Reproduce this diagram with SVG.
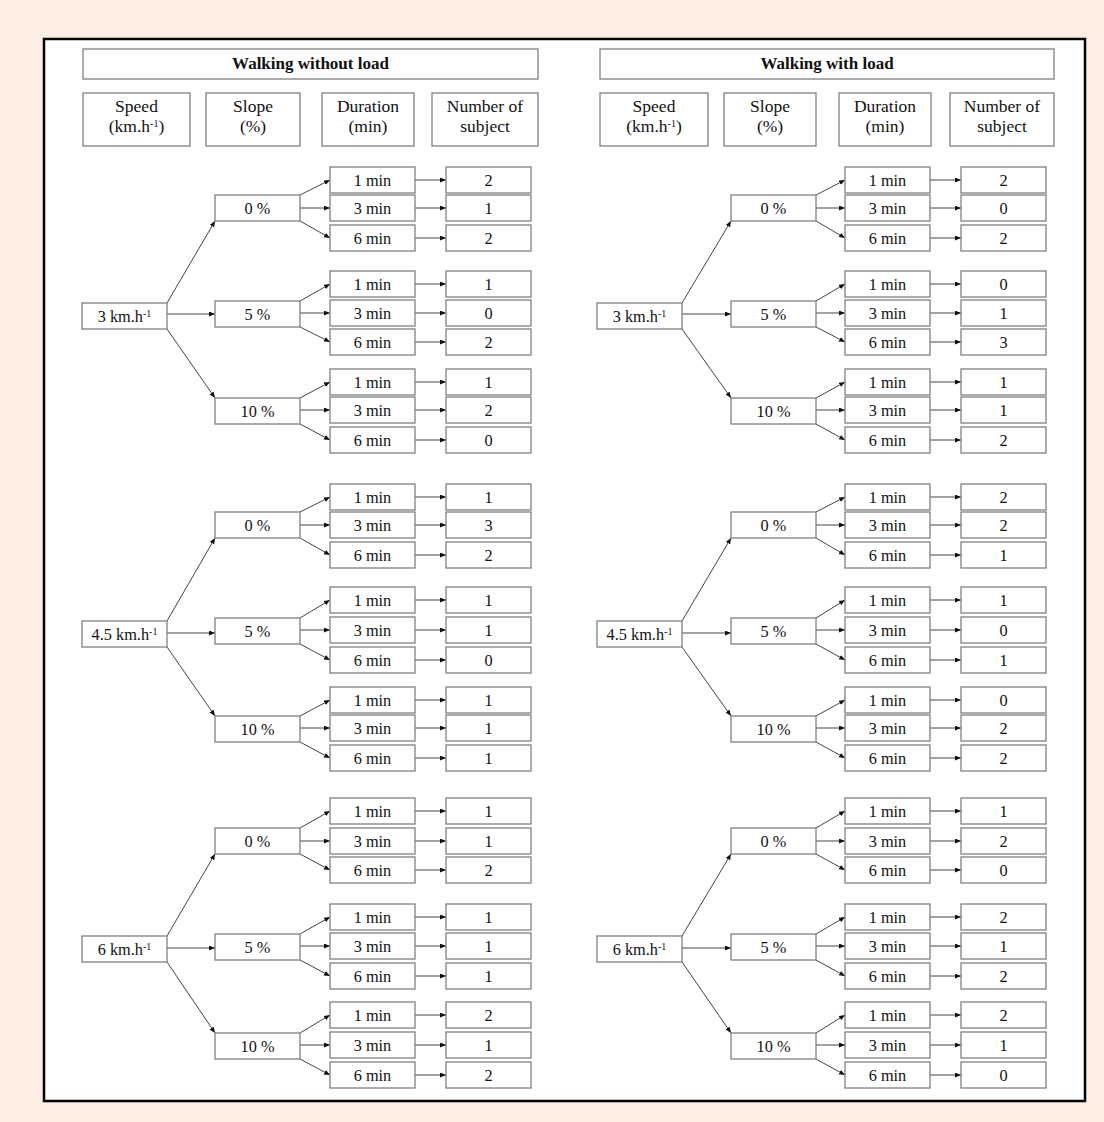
<svg xmlns="http://www.w3.org/2000/svg" width="1104" height="1122" viewBox="0 0 1104 1122">
<style>
.b{fill:#fff;stroke:#808080;stroke-width:1.3}
.t{font-family:"Liberation Serif","Times New Roman",serif;font-size:16.3px;fill:#111;text-anchor:middle}
.h{font-size:17.5px}
.ttl{font-weight:bold;font-size:17px}
.sup{font-size:10px}
.e{stroke:#444;stroke-width:1;fill:none;marker-end:url(#ah)}
</style>
<defs>
<marker id="ah" markerUnits="userSpaceOnUse" markerWidth="7" markerHeight="6" refX="6" refY="2.5" orient="auto"><path d="M0,0 L6,2.5 L0,5 z" fill="#111"/></marker>
</defs>
<rect x="0" y="0" width="1104" height="1122" fill="#fdeee4"/>
<rect x="44" y="39" width="1041" height="1062" fill="#fff" stroke="#000" stroke-width="2.5"/>

<!-- Headers -->
<g id="L-title"><rect class="b" x="83" y="49" width="455" height="30"/><text class="t ttl" x="310.5" y="69">Walking without load</text></g>
<g id="L-h-speed"><rect class="b" x="83" y="93" width="107" height="53"/><text class="t h" x="136.5" y="112">Speed</text><text class="t h" x="136.5" y="132">(km.h<tspan class="sup" baseline-shift="super">-1</tspan>)</text></g>
<g id="L-h-slope"><rect class="b" x="206" y="93" width="94" height="53"/><text class="t h" x="253" y="112">Slope</text><text class="t h" x="253" y="132">(%)</text></g>
<g id="L-h-dur"><rect class="b" x="322" y="93" width="92" height="53"/><text class="t h" x="368" y="112">Duration</text><text class="t h" x="368" y="132">(min)</text></g>
<g id="L-h-num"><rect class="b" x="432" y="93" width="106" height="53"/><text class="t h" x="485" y="112">Number of</text><text class="t h" x="485" y="132">subject</text></g>

<g id="R-title"><rect class="b" x="600" y="49" width="454" height="30"/><text class="t ttl" x="827" y="69">Walking with load</text></g>
<g id="R-h-speed"><rect class="b" x="600" y="93" width="108" height="53"/><text class="t h" x="654" y="112">Speed</text><text class="t h" x="654" y="132">(km.h<tspan class="sup" baseline-shift="super">-1</tspan>)</text></g>
<g id="R-h-slope"><rect class="b" x="724" y="93" width="92" height="53"/><text class="t h" x="770" y="112">Slope</text><text class="t h" x="770" y="132">(%)</text></g>
<g id="R-h-dur"><rect class="b" x="839" y="93" width="92" height="53"/><text class="t h" x="885" y="112">Duration</text><text class="t h" x="885" y="132">(min)</text></g>
<g id="R-h-num"><rect class="b" x="950" y="93" width="104" height="53"/><text class="t h" x="1002" y="112">Number of</text><text class="t h" x="1002" y="132">subject</text></g>

<!-- Connectors -->
<g id="connectors">
<!-- Left G1 -->
<path class="e" d="M167,303 L215,221"/><path class="e" d="M167,314 L215,314"/><path class="e" d="M167,329 L215,398"/>
<path class="e" d="M300,195 L330,180"/><path class="e" d="M300,208 L330,208"/><path class="e" d="M300,221 L330,238"/>
<path class="e" d="M415,180 L446,180"/><path class="e" d="M415,208 L446,208"/><path class="e" d="M415,238 L446,238"/>
<path class="e" d="M300,301 L330,284"/><path class="e" d="M300,313 L330,313"/><path class="e" d="M300,327 L330,342"/>
<path class="e" d="M415,284 L446,284"/><path class="e" d="M415,313 L446,313"/><path class="e" d="M415,342 L446,342"/>
<path class="e" d="M300,398 L330,382"/><path class="e" d="M300,410 L330,410"/><path class="e" d="M300,424 L330,440"/>
<path class="e" d="M415,382 L446,382"/><path class="e" d="M415,410 L446,410"/><path class="e" d="M415,440 L446,440"/>
<!-- Left G2 -->
<path class="e" d="M167,621 L215,538"/><path class="e" d="M167,633 L215,633"/><path class="e" d="M167,647 L215,716"/>
<path class="e" d="M300,512 L330,497"/><path class="e" d="M300,525 L330,525"/><path class="e" d="M300,538 L330,555"/>
<path class="e" d="M415,497 L446,497"/><path class="e" d="M415,525 L446,525"/><path class="e" d="M415,555 L446,555"/>
<path class="e" d="M300,618 L330,600"/><path class="e" d="M300,630 L330,630"/><path class="e" d="M300,644 L330,660"/>
<path class="e" d="M415,600 L446,600"/><path class="e" d="M415,630 L446,630"/><path class="e" d="M415,660 L446,660"/>
<path class="e" d="M300,716 L330,700"/><path class="e" d="M300,728 L330,728"/><path class="e" d="M300,742 L330,758"/>
<path class="e" d="M415,700 L446,700"/><path class="e" d="M415,728 L446,728"/><path class="e" d="M415,758 L446,758"/>
<!-- Left G3 -->
<path class="e" d="M167,936 L215,854"/><path class="e" d="M167,948 L215,948"/><path class="e" d="M167,962 L215,1033"/>
<path class="e" d="M300,828 L330,811"/><path class="e" d="M300,841 L330,841"/><path class="e" d="M300,854 L330,870"/>
<path class="e" d="M415,811 L446,811"/><path class="e" d="M415,841 L446,841"/><path class="e" d="M415,870 L446,870"/>
<path class="e" d="M300,934 L330,917"/><path class="e" d="M300,946 L330,946"/><path class="e" d="M300,960 L330,976"/>
<path class="e" d="M415,917 L446,917"/><path class="e" d="M415,946 L446,946"/><path class="e" d="M415,976 L446,976"/>
<path class="e" d="M300,1033 L330,1015"/><path class="e" d="M300,1045 L330,1045"/><path class="e" d="M300,1059 L330,1075"/>
<path class="e" d="M415,1015 L446,1015"/><path class="e" d="M415,1045 L446,1045"/><path class="e" d="M415,1075 L446,1075"/>
<!-- Right G1 -->
<path class="e" d="M682,303 L731,221"/><path class="e" d="M682,314 L731,314"/><path class="e" d="M682,329 L731,398"/>
<path class="e" d="M816,195 L845,180"/><path class="e" d="M816,208 L845,208"/><path class="e" d="M816,221 L845,238"/>
<path class="e" d="M930,180 L961,180"/><path class="e" d="M930,208 L961,208"/><path class="e" d="M930,238 L961,238"/>
<path class="e" d="M816,301 L845,284"/><path class="e" d="M816,313 L845,313"/><path class="e" d="M816,327 L845,342"/>
<path class="e" d="M930,284 L961,284"/><path class="e" d="M930,313 L961,313"/><path class="e" d="M930,342 L961,342"/>
<path class="e" d="M816,398 L845,382"/><path class="e" d="M816,410 L845,410"/><path class="e" d="M816,424 L845,440"/>
<path class="e" d="M930,382 L961,382"/><path class="e" d="M930,410 L961,410"/><path class="e" d="M930,440 L961,440"/>
<!-- Right G2 -->
<path class="e" d="M682,621 L731,538"/><path class="e" d="M682,633 L731,633"/><path class="e" d="M682,647 L731,716"/>
<path class="e" d="M816,512 L845,497"/><path class="e" d="M816,525 L845,525"/><path class="e" d="M816,538 L845,555"/>
<path class="e" d="M930,497 L961,497"/><path class="e" d="M930,525 L961,525"/><path class="e" d="M930,555 L961,555"/>
<path class="e" d="M816,618 L845,600"/><path class="e" d="M816,630 L845,630"/><path class="e" d="M816,644 L845,660"/>
<path class="e" d="M930,600 L961,600"/><path class="e" d="M930,630 L961,630"/><path class="e" d="M930,660 L961,660"/>
<path class="e" d="M816,716 L845,700"/><path class="e" d="M816,728 L845,728"/><path class="e" d="M816,742 L845,758"/>
<path class="e" d="M930,700 L961,700"/><path class="e" d="M930,728 L961,728"/><path class="e" d="M930,758 L961,758"/>
<!-- Right G3 -->
<path class="e" d="M682,936 L731,854"/><path class="e" d="M682,948 L731,948"/><path class="e" d="M682,962 L731,1033"/>
<path class="e" d="M816,828 L845,811"/><path class="e" d="M816,841 L845,841"/><path class="e" d="M816,854 L845,870"/>
<path class="e" d="M930,811 L961,811"/><path class="e" d="M930,841 L961,841"/><path class="e" d="M930,870 L961,870"/>
<path class="e" d="M816,934 L845,917"/><path class="e" d="M816,946 L845,946"/><path class="e" d="M816,960 L845,976"/>
<path class="e" d="M930,917 L961,917"/><path class="e" d="M930,946 L961,946"/><path class="e" d="M930,976 L961,976"/>
<path class="e" d="M816,1033 L845,1015"/><path class="e" d="M816,1045 L845,1045"/><path class="e" d="M816,1059 L845,1075"/>
<path class="e" d="M930,1015 L961,1015"/><path class="e" d="M930,1045 L961,1045"/><path class="e" d="M930,1075 L961,1075"/>
</g>

<!-- Left nodes G1 -->
<g id="L-g1" transform="translate(82,303)"><rect class="b" width="85" height="26"/><text class="t" x="42.5" y="18.5">3 km.h<tspan class="sup" baseline-shift="super">-1</tspan></text></g>
<g id="L-g1-p0" transform="translate(215,195)"><rect class="b" width="85" height="26"/><text class="t" x="42.5" y="18.5">0 %</text></g>
<g id="L-g1-p0-d1" transform="translate(330,167)"><rect class="b" width="85" height="26"/><text class="t" x="42.5" y="18.5">1 min</text></g>
<g id="L-g1-p0-d3" transform="translate(330,195)"><rect class="b" width="85" height="26"/><text class="t" x="42.5" y="18.5">3 min</text></g>
<g id="L-g1-p0-d6" transform="translate(330,225)"><rect class="b" width="85" height="26"/><text class="t" x="42.5" y="18.5">6 min</text></g>
<g id="L-g1-p0-n1" transform="translate(446,167)"><rect class="b" width="85" height="26"/><text class="t" x="42.5" y="18.5">2</text></g>
<g id="L-g1-p0-n3" transform="translate(446,195)"><rect class="b" width="85" height="26"/><text class="t" x="42.5" y="18.5">1</text></g>
<g id="L-g1-p0-n6" transform="translate(446,225)"><rect class="b" width="85" height="26"/><text class="t" x="42.5" y="18.5">2</text></g>
<g id="L-g1-p5" transform="translate(215,301)"><rect class="b" width="85" height="26"/><text class="t" x="42.5" y="18.5">5 %</text></g>
<g id="L-g1-p5-d1" transform="translate(330,271)"><rect class="b" width="85" height="26"/><text class="t" x="42.5" y="18.5">1 min</text></g>
<g id="L-g1-p5-d3" transform="translate(330,300)"><rect class="b" width="85" height="26"/><text class="t" x="42.5" y="18.5">3 min</text></g>
<g id="L-g1-p5-d6" transform="translate(330,329)"><rect class="b" width="85" height="26"/><text class="t" x="42.5" y="18.5">6 min</text></g>
<g id="L-g1-p5-n1" transform="translate(446,271)"><rect class="b" width="85" height="26"/><text class="t" x="42.5" y="18.5">1</text></g>
<g id="L-g1-p5-n3" transform="translate(446,300)"><rect class="b" width="85" height="26"/><text class="t" x="42.5" y="18.5">0</text></g>
<g id="L-g1-p5-n6" transform="translate(446,329)"><rect class="b" width="85" height="26"/><text class="t" x="42.5" y="18.5">2</text></g>
<g id="L-g1-p10" transform="translate(215,398)"><rect class="b" width="85" height="26"/><text class="t" x="42.5" y="18.5">10 %</text></g>
<g id="L-g1-p10-d1" transform="translate(330,369)"><rect class="b" width="85" height="26"/><text class="t" x="42.5" y="18.5">1 min</text></g>
<g id="L-g1-p10-d3" transform="translate(330,397)"><rect class="b" width="85" height="26"/><text class="t" x="42.5" y="18.5">3 min</text></g>
<g id="L-g1-p10-d6" transform="translate(330,427)"><rect class="b" width="85" height="26"/><text class="t" x="42.5" y="18.5">6 min</text></g>
<g id="L-g1-p10-n1" transform="translate(446,369)"><rect class="b" width="85" height="26"/><text class="t" x="42.5" y="18.5">1</text></g>
<g id="L-g1-p10-n3" transform="translate(446,397)"><rect class="b" width="85" height="26"/><text class="t" x="42.5" y="18.5">2</text></g>
<g id="L-g1-p10-n6" transform="translate(446,427)"><rect class="b" width="85" height="26"/><text class="t" x="42.5" y="18.5">0</text></g>

<!-- Left nodes G2 -->
<g id="L-g2" transform="translate(82,621)"><rect class="b" width="85" height="26"/><text class="t" x="42.5" y="18.5">4.5 km.h<tspan class="sup" baseline-shift="super">-1</tspan></text></g>
<g id="L-g2-p0" transform="translate(215,512)"><rect class="b" width="85" height="26"/><text class="t" x="42.5" y="18.5">0 %</text></g>
<g id="L-g2-p0-d1" transform="translate(330,484)"><rect class="b" width="85" height="26"/><text class="t" x="42.5" y="18.5">1 min</text></g>
<g id="L-g2-p0-d3" transform="translate(330,512)"><rect class="b" width="85" height="26"/><text class="t" x="42.5" y="18.5">3 min</text></g>
<g id="L-g2-p0-d6" transform="translate(330,542)"><rect class="b" width="85" height="26"/><text class="t" x="42.5" y="18.5">6 min</text></g>
<g id="L-g2-p0-n1" transform="translate(446,484)"><rect class="b" width="85" height="26"/><text class="t" x="42.5" y="18.5">1</text></g>
<g id="L-g2-p0-n3" transform="translate(446,512)"><rect class="b" width="85" height="26"/><text class="t" x="42.5" y="18.5">3</text></g>
<g id="L-g2-p0-n6" transform="translate(446,542)"><rect class="b" width="85" height="26"/><text class="t" x="42.5" y="18.5">2</text></g>
<g id="L-g2-p5" transform="translate(215,618)"><rect class="b" width="85" height="26"/><text class="t" x="42.5" y="18.5">5 %</text></g>
<g id="L-g2-p5-d1" transform="translate(330,587)"><rect class="b" width="85" height="26"/><text class="t" x="42.5" y="18.5">1 min</text></g>
<g id="L-g2-p5-d3" transform="translate(330,617)"><rect class="b" width="85" height="26"/><text class="t" x="42.5" y="18.5">3 min</text></g>
<g id="L-g2-p5-d6" transform="translate(330,647)"><rect class="b" width="85" height="26"/><text class="t" x="42.5" y="18.5">6 min</text></g>
<g id="L-g2-p5-n1" transform="translate(446,587)"><rect class="b" width="85" height="26"/><text class="t" x="42.5" y="18.5">1</text></g>
<g id="L-g2-p5-n3" transform="translate(446,617)"><rect class="b" width="85" height="26"/><text class="t" x="42.5" y="18.5">1</text></g>
<g id="L-g2-p5-n6" transform="translate(446,647)"><rect class="b" width="85" height="26"/><text class="t" x="42.5" y="18.5">0</text></g>
<g id="L-g2-p10" transform="translate(215,716)"><rect class="b" width="85" height="26"/><text class="t" x="42.5" y="18.5">10 %</text></g>
<g id="L-g2-p10-d1" transform="translate(330,687)"><rect class="b" width="85" height="26"/><text class="t" x="42.5" y="18.5">1 min</text></g>
<g id="L-g2-p10-d3" transform="translate(330,715)"><rect class="b" width="85" height="26"/><text class="t" x="42.5" y="18.5">3 min</text></g>
<g id="L-g2-p10-d6" transform="translate(330,745)"><rect class="b" width="85" height="26"/><text class="t" x="42.5" y="18.5">6 min</text></g>
<g id="L-g2-p10-n1" transform="translate(446,687)"><rect class="b" width="85" height="26"/><text class="t" x="42.5" y="18.5">1</text></g>
<g id="L-g2-p10-n3" transform="translate(446,715)"><rect class="b" width="85" height="26"/><text class="t" x="42.5" y="18.5">1</text></g>
<g id="L-g2-p10-n6" transform="translate(446,745)"><rect class="b" width="85" height="26"/><text class="t" x="42.5" y="18.5">1</text></g>

<!-- Left nodes G3 -->
<g id="L-g3" transform="translate(82,936)"><rect class="b" width="85" height="26"/><text class="t" x="42.5" y="18.5">6 km.h<tspan class="sup" baseline-shift="super">-1</tspan></text></g>
<g id="L-g3-p0" transform="translate(215,828)"><rect class="b" width="85" height="26"/><text class="t" x="42.5" y="18.5">0 %</text></g>
<g id="L-g3-p0-d1" transform="translate(330,798)"><rect class="b" width="85" height="26"/><text class="t" x="42.5" y="18.5">1 min</text></g>
<g id="L-g3-p0-d3" transform="translate(330,828)"><rect class="b" width="85" height="26"/><text class="t" x="42.5" y="18.5">3 min</text></g>
<g id="L-g3-p0-d6" transform="translate(330,857)"><rect class="b" width="85" height="26"/><text class="t" x="42.5" y="18.5">6 min</text></g>
<g id="L-g3-p0-n1" transform="translate(446,798)"><rect class="b" width="85" height="26"/><text class="t" x="42.5" y="18.5">1</text></g>
<g id="L-g3-p0-n3" transform="translate(446,828)"><rect class="b" width="85" height="26"/><text class="t" x="42.5" y="18.5">1</text></g>
<g id="L-g3-p0-n6" transform="translate(446,857)"><rect class="b" width="85" height="26"/><text class="t" x="42.5" y="18.5">2</text></g>
<g id="L-g3-p5" transform="translate(215,934)"><rect class="b" width="85" height="26"/><text class="t" x="42.5" y="18.5">5 %</text></g>
<g id="L-g3-p5-d1" transform="translate(330,904)"><rect class="b" width="85" height="26"/><text class="t" x="42.5" y="18.5">1 min</text></g>
<g id="L-g3-p5-d3" transform="translate(330,933)"><rect class="b" width="85" height="26"/><text class="t" x="42.5" y="18.5">3 min</text></g>
<g id="L-g3-p5-d6" transform="translate(330,963)"><rect class="b" width="85" height="26"/><text class="t" x="42.5" y="18.5">6 min</text></g>
<g id="L-g3-p5-n1" transform="translate(446,904)"><rect class="b" width="85" height="26"/><text class="t" x="42.5" y="18.5">1</text></g>
<g id="L-g3-p5-n3" transform="translate(446,933)"><rect class="b" width="85" height="26"/><text class="t" x="42.5" y="18.5">1</text></g>
<g id="L-g3-p5-n6" transform="translate(446,963)"><rect class="b" width="85" height="26"/><text class="t" x="42.5" y="18.5">1</text></g>
<g id="L-g3-p10" transform="translate(215,1033)"><rect class="b" width="85" height="26"/><text class="t" x="42.5" y="18.5">10 %</text></g>
<g id="L-g3-p10-d1" transform="translate(330,1002)"><rect class="b" width="85" height="26"/><text class="t" x="42.5" y="18.5">1 min</text></g>
<g id="L-g3-p10-d3" transform="translate(330,1032)"><rect class="b" width="85" height="26"/><text class="t" x="42.5" y="18.5">3 min</text></g>
<g id="L-g3-p10-d6" transform="translate(330,1062)"><rect class="b" width="85" height="26"/><text class="t" x="42.5" y="18.5">6 min</text></g>
<g id="L-g3-p10-n1" transform="translate(446,1002)"><rect class="b" width="85" height="26"/><text class="t" x="42.5" y="18.5">2</text></g>
<g id="L-g3-p10-n3" transform="translate(446,1032)"><rect class="b" width="85" height="26"/><text class="t" x="42.5" y="18.5">1</text></g>
<g id="L-g3-p10-n6" transform="translate(446,1062)"><rect class="b" width="85" height="26"/><text class="t" x="42.5" y="18.5">2</text></g>

<!-- Right nodes G1 -->
<g id="R-g1" transform="translate(597,303)"><rect class="b" width="85" height="26"/><text class="t" x="42.5" y="18.5">3 km.h<tspan class="sup" baseline-shift="super">-1</tspan></text></g>
<g id="R-g1-p0" transform="translate(731,195)"><rect class="b" width="85" height="26"/><text class="t" x="42.5" y="18.5">0 %</text></g>
<g id="R-g1-p0-d1" transform="translate(845,167)"><rect class="b" width="85" height="26"/><text class="t" x="42.5" y="18.5">1 min</text></g>
<g id="R-g1-p0-d3" transform="translate(845,195)"><rect class="b" width="85" height="26"/><text class="t" x="42.5" y="18.5">3 min</text></g>
<g id="R-g1-p0-d6" transform="translate(845,225)"><rect class="b" width="85" height="26"/><text class="t" x="42.5" y="18.5">6 min</text></g>
<g id="R-g1-p0-n1" transform="translate(961,167)"><rect class="b" width="85" height="26"/><text class="t" x="42.5" y="18.5">2</text></g>
<g id="R-g1-p0-n3" transform="translate(961,195)"><rect class="b" width="85" height="26"/><text class="t" x="42.5" y="18.5">0</text></g>
<g id="R-g1-p0-n6" transform="translate(961,225)"><rect class="b" width="85" height="26"/><text class="t" x="42.5" y="18.5">2</text></g>
<g id="R-g1-p5" transform="translate(731,301)"><rect class="b" width="85" height="26"/><text class="t" x="42.5" y="18.5">5 %</text></g>
<g id="R-g1-p5-d1" transform="translate(845,271)"><rect class="b" width="85" height="26"/><text class="t" x="42.5" y="18.5">1 min</text></g>
<g id="R-g1-p5-d3" transform="translate(845,300)"><rect class="b" width="85" height="26"/><text class="t" x="42.5" y="18.5">3 min</text></g>
<g id="R-g1-p5-d6" transform="translate(845,329)"><rect class="b" width="85" height="26"/><text class="t" x="42.5" y="18.5">6 min</text></g>
<g id="R-g1-p5-n1" transform="translate(961,271)"><rect class="b" width="85" height="26"/><text class="t" x="42.5" y="18.5">0</text></g>
<g id="R-g1-p5-n3" transform="translate(961,300)"><rect class="b" width="85" height="26"/><text class="t" x="42.5" y="18.5">1</text></g>
<g id="R-g1-p5-n6" transform="translate(961,329)"><rect class="b" width="85" height="26"/><text class="t" x="42.5" y="18.5">3</text></g>
<g id="R-g1-p10" transform="translate(731,398)"><rect class="b" width="85" height="26"/><text class="t" x="42.5" y="18.5">10 %</text></g>
<g id="R-g1-p10-d1" transform="translate(845,369)"><rect class="b" width="85" height="26"/><text class="t" x="42.5" y="18.5">1 min</text></g>
<g id="R-g1-p10-d3" transform="translate(845,397)"><rect class="b" width="85" height="26"/><text class="t" x="42.5" y="18.5">3 min</text></g>
<g id="R-g1-p10-d6" transform="translate(845,427)"><rect class="b" width="85" height="26"/><text class="t" x="42.5" y="18.5">6 min</text></g>
<g id="R-g1-p10-n1" transform="translate(961,369)"><rect class="b" width="85" height="26"/><text class="t" x="42.5" y="18.5">1</text></g>
<g id="R-g1-p10-n3" transform="translate(961,397)"><rect class="b" width="85" height="26"/><text class="t" x="42.5" y="18.5">1</text></g>
<g id="R-g1-p10-n6" transform="translate(961,427)"><rect class="b" width="85" height="26"/><text class="t" x="42.5" y="18.5">2</text></g>

<!-- Right nodes G2 -->
<g id="R-g2" transform="translate(597,621)"><rect class="b" width="85" height="26"/><text class="t" x="42.5" y="18.5">4.5 km.h<tspan class="sup" baseline-shift="super">-1</tspan></text></g>
<g id="R-g2-p0" transform="translate(731,512)"><rect class="b" width="85" height="26"/><text class="t" x="42.5" y="18.5">0 %</text></g>
<g id="R-g2-p0-d1" transform="translate(845,484)"><rect class="b" width="85" height="26"/><text class="t" x="42.5" y="18.5">1 min</text></g>
<g id="R-g2-p0-d3" transform="translate(845,512)"><rect class="b" width="85" height="26"/><text class="t" x="42.5" y="18.5">3 min</text></g>
<g id="R-g2-p0-d6" transform="translate(845,542)"><rect class="b" width="85" height="26"/><text class="t" x="42.5" y="18.5">6 min</text></g>
<g id="R-g2-p0-n1" transform="translate(961,484)"><rect class="b" width="85" height="26"/><text class="t" x="42.5" y="18.5">2</text></g>
<g id="R-g2-p0-n3" transform="translate(961,512)"><rect class="b" width="85" height="26"/><text class="t" x="42.5" y="18.5">2</text></g>
<g id="R-g2-p0-n6" transform="translate(961,542)"><rect class="b" width="85" height="26"/><text class="t" x="42.5" y="18.5">1</text></g>
<g id="R-g2-p5" transform="translate(731,618)"><rect class="b" width="85" height="26"/><text class="t" x="42.5" y="18.5">5 %</text></g>
<g id="R-g2-p5-d1" transform="translate(845,587)"><rect class="b" width="85" height="26"/><text class="t" x="42.5" y="18.5">1 min</text></g>
<g id="R-g2-p5-d3" transform="translate(845,617)"><rect class="b" width="85" height="26"/><text class="t" x="42.5" y="18.5">3 min</text></g>
<g id="R-g2-p5-d6" transform="translate(845,647)"><rect class="b" width="85" height="26"/><text class="t" x="42.5" y="18.5">6 min</text></g>
<g id="R-g2-p5-n1" transform="translate(961,587)"><rect class="b" width="85" height="26"/><text class="t" x="42.5" y="18.5">1</text></g>
<g id="R-g2-p5-n3" transform="translate(961,617)"><rect class="b" width="85" height="26"/><text class="t" x="42.5" y="18.5">0</text></g>
<g id="R-g2-p5-n6" transform="translate(961,647)"><rect class="b" width="85" height="26"/><text class="t" x="42.5" y="18.5">1</text></g>
<g id="R-g2-p10" transform="translate(731,716)"><rect class="b" width="85" height="26"/><text class="t" x="42.5" y="18.5">10 %</text></g>
<g id="R-g2-p10-d1" transform="translate(845,687)"><rect class="b" width="85" height="26"/><text class="t" x="42.5" y="18.5">1 min</text></g>
<g id="R-g2-p10-d3" transform="translate(845,715)"><rect class="b" width="85" height="26"/><text class="t" x="42.5" y="18.5">3 min</text></g>
<g id="R-g2-p10-d6" transform="translate(845,745)"><rect class="b" width="85" height="26"/><text class="t" x="42.5" y="18.5">6 min</text></g>
<g id="R-g2-p10-n1" transform="translate(961,687)"><rect class="b" width="85" height="26"/><text class="t" x="42.5" y="18.5">0</text></g>
<g id="R-g2-p10-n3" transform="translate(961,715)"><rect class="b" width="85" height="26"/><text class="t" x="42.5" y="18.5">2</text></g>
<g id="R-g2-p10-n6" transform="translate(961,745)"><rect class="b" width="85" height="26"/><text class="t" x="42.5" y="18.5">2</text></g>

<!-- Right nodes G3 -->
<g id="R-g3" transform="translate(597,936)"><rect class="b" width="85" height="26"/><text class="t" x="42.5" y="18.5">6 km.h<tspan class="sup" baseline-shift="super">-1</tspan></text></g>
<g id="R-g3-p0" transform="translate(731,828)"><rect class="b" width="85" height="26"/><text class="t" x="42.5" y="18.5">0 %</text></g>
<g id="R-g3-p0-d1" transform="translate(845,798)"><rect class="b" width="85" height="26"/><text class="t" x="42.5" y="18.5">1 min</text></g>
<g id="R-g3-p0-d3" transform="translate(845,828)"><rect class="b" width="85" height="26"/><text class="t" x="42.5" y="18.5">3 min</text></g>
<g id="R-g3-p0-d6" transform="translate(845,857)"><rect class="b" width="85" height="26"/><text class="t" x="42.5" y="18.5">6 min</text></g>
<g id="R-g3-p0-n1" transform="translate(961,798)"><rect class="b" width="85" height="26"/><text class="t" x="42.5" y="18.5">1</text></g>
<g id="R-g3-p0-n3" transform="translate(961,828)"><rect class="b" width="85" height="26"/><text class="t" x="42.5" y="18.5">2</text></g>
<g id="R-g3-p0-n6" transform="translate(961,857)"><rect class="b" width="85" height="26"/><text class="t" x="42.5" y="18.5">0</text></g>
<g id="R-g3-p5" transform="translate(731,934)"><rect class="b" width="85" height="26"/><text class="t" x="42.5" y="18.5">5 %</text></g>
<g id="R-g3-p5-d1" transform="translate(845,904)"><rect class="b" width="85" height="26"/><text class="t" x="42.5" y="18.5">1 min</text></g>
<g id="R-g3-p5-d3" transform="translate(845,933)"><rect class="b" width="85" height="26"/><text class="t" x="42.5" y="18.5">3 min</text></g>
<g id="R-g3-p5-d6" transform="translate(845,963)"><rect class="b" width="85" height="26"/><text class="t" x="42.5" y="18.5">6 min</text></g>
<g id="R-g3-p5-n1" transform="translate(961,904)"><rect class="b" width="85" height="26"/><text class="t" x="42.5" y="18.5">2</text></g>
<g id="R-g3-p5-n3" transform="translate(961,933)"><rect class="b" width="85" height="26"/><text class="t" x="42.5" y="18.5">1</text></g>
<g id="R-g3-p5-n6" transform="translate(961,963)"><rect class="b" width="85" height="26"/><text class="t" x="42.5" y="18.5">2</text></g>
<g id="R-g3-p10" transform="translate(731,1033)"><rect class="b" width="85" height="26"/><text class="t" x="42.5" y="18.5">10 %</text></g>
<g id="R-g3-p10-d1" transform="translate(845,1002)"><rect class="b" width="85" height="26"/><text class="t" x="42.5" y="18.5">1 min</text></g>
<g id="R-g3-p10-d3" transform="translate(845,1032)"><rect class="b" width="85" height="26"/><text class="t" x="42.5" y="18.5">3 min</text></g>
<g id="R-g3-p10-d6" transform="translate(845,1062)"><rect class="b" width="85" height="26"/><text class="t" x="42.5" y="18.5">6 min</text></g>
<g id="R-g3-p10-n1" transform="translate(961,1002)"><rect class="b" width="85" height="26"/><text class="t" x="42.5" y="18.5">2</text></g>
<g id="R-g3-p10-n3" transform="translate(961,1032)"><rect class="b" width="85" height="26"/><text class="t" x="42.5" y="18.5">1</text></g>
<g id="R-g3-p10-n6" transform="translate(961,1062)"><rect class="b" width="85" height="26"/><text class="t" x="42.5" y="18.5">0</text></g>
</svg>
